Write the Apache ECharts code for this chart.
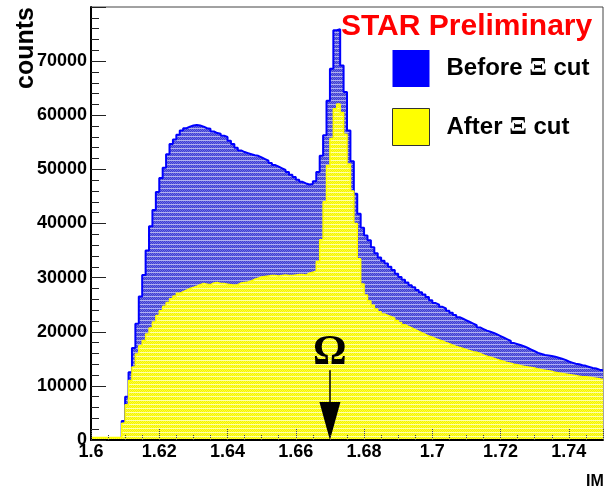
<!DOCTYPE html>
<html>
<head>
<meta charset="utf-8">
<script src="https://cdn.jsdelivr.net/npm/echarts@6.0.0/dist/echarts.min.js"></script>
<style>
  html, body { margin: 0; padding: 0; background: #fff; }
  #chart { width: 604px; height: 489px; }
</style>
</head>
<body>
<div id="chart"></div>
<script>
// histogram binning
const binStart = 1.6
const binWidth = 0.001
const xRange = [1.6, 1.75]
const yRange = [0, 80000]

// counts per bin, before the Xi cut
const beforeCounts = [
  300, 300, 300, 300, 300, 300, 300, 300, 300, 3500,
  8000, 12500, 17000, 21500, 26500, 30500, 35000, 39500, 42500, 45800,
  48400, 50300, 52800, 54700, 55500, 56400, 57200, 57600, 57900, 58100,
  58200, 58100, 57900, 57600, 57500, 57000, 56700, 56600, 56200, 56000,
  55300, 54700, 54000, 53500, 53200, 53000, 52800, 52600, 52500, 52200,
  51900, 51600, 51200, 50800, 50500, 50200, 49900, 49500, 49000, 48600,
  48100, 47700, 47400, 47200, 47300, 47800, 49500, 52500, 56300, 62700,
  68600, 75700, 75900, 69200, 64300, 57200, 51500, 45500, 41800, 39200,
  37800, 36900, 35600, 34500, 33700, 33100, 32600, 32000, 31400, 30700,
  30100, 29600, 29100, 28600, 28200, 27700, 27300, 26900, 26400, 25800,
  25300, 25000, 24600, 24300, 23900, 23500, 23100, 22700, 22400, 22100,
  21800, 21500, 21200, 20800, 20500, 20200, 20000, 19800, 19500, 19200,
  18900, 18600, 18300, 17900, 17700, 17500, 17300, 17000, 16700, 16400,
  16100, 15900, 15700, 15600, 15500, 15400, 15200, 15000, 14800, 14500,
  14300, 14100, 14000, 13800, 13700, 13500, 13300, 13200, 13000, 12900
]

// counts per bin, after the Xi cut
const afterCounts = [
  450, 450, 450, 450, 450, 450, 450, 450, 450, 3100,
  6500, 11000, 13500, 15900, 17400, 18400, 19600, 20700, 21800, 23000,
  23900, 24700, 25400, 26100, 26600, 27100, 27400, 27700, 28000, 28200,
  28400, 28700, 28900, 28800, 28700, 29000, 29100, 28900, 28900, 28800,
  28700, 28600, 28700, 29000, 29100, 29200, 29400, 29700, 29900, 30100,
  30200, 30300, 30400, 30400, 30300, 30400, 30500, 30400, 30400, 30500,
  30600, 30600, 30500, 30800, 31000, 31200, 33000, 37000, 44000, 50700,
  55700, 61200, 62100, 60500, 56500, 51000, 46000, 40000, 33500, 28800,
  26800, 25700, 24900, 24200, 23700, 23300, 23000, 22800, 22500, 22100,
  21700, 21300, 21000, 20700, 20400, 20100, 19800, 19500, 19200, 19000,
  18700, 18500, 18300, 18000, 17800, 17500, 17300, 17100, 16900, 16700,
  16500, 16300, 16200, 16000, 15700, 15500, 15300, 15100, 14900, 14700,
  14500, 14300, 14200, 14000, 13900, 13700, 13600, 13500, 13400, 13300,
  13100, 13000, 12900, 12800, 12700, 12500, 12400, 12300, 12200, 12100,
  12000, 11900, 11800, 11700, 11700, 11600, 11500, 11400, 11300, 11200
]

// Omega arrow annotation
const omegaMass = 1.67
const arrowTop = 12900
const arrowHeadCenter = 3500

const chart = echarts.init(document.getElementById('chart'))

const toSteps = counts => {
  const pts = counts.map((c, i) => [binStart + i * binWidth, c])
  pts.push([binStart + counts.length * binWidth, counts[counts.length - 1]])
  return pts
}

// small fill patterns, mimic the dithered ROOT fill
const makePattern = rows => {
  const c = document.createElement('canvas')
  c.width = rows[0].length
  c.height = rows.length
  const ctx = c.getContext('2d')
  rows.forEach((r, y) => r.forEach((col, x) => {
    ctx.fillStyle = col
    ctx.fillRect(x, y, 1, 1)
  }))
  return { image: c, repeat: 'repeat' }
}

const bluePattern = makePattern([
  ['#b0b0ee', '#b0b0ee'],
  ['#3c3cd6', '#7070e0'],
  ['#7070e0', '#3c3cd6'],
  ['#3c3cd6', '#7070e0']
])
const yellowPattern = makePattern([
  ['#ffffa8', '#ffffa8'],
  ['#f2f200', '#ffff38'],
  ['#ffff38', '#f2f200'],
  ['#f2f200', '#ffff38']
])

const font = 'Liberation Sans'

chart.setOption({
  animation: false,
  backgroundColor: '#fff',
  grid: {
    left: 91, right: 1, top: 7, bottom: 49,
    show: true, borderColor: '#444', borderWidth: 1,
    outerBoundsMode: 'none'
  },
  legend: {
    orient: 'vertical',
    left: 392, top: 50,
    padding: 0,
    itemWidth: 37, itemHeight: 37, itemGap: 21,
    icon: 'rect',
    selectedMode: false,
    data: [
      { name: 'Before Ξ cut', itemStyle: { color: '#0000ff', borderWidth: 0 } },
      { name: 'After Ξ cut', itemStyle: { color: '#ffff00', borderColor: '#333', borderWidth: 1 } }
    ],
    formatter: name => name.replace('Ξ', '{xi|Ξ}'),
    textStyle: {
      fontFamily: font, fontWeight: 'bold', fontSize: 24, color: '#000',
      padding: [0, 0, 0, 12],
      rich: {
        xi: { fontFamily: 'Liberation Serif', fontWeight: 'bold', fontSize: 26, color: '#000' }
      }
    }
  },
  xAxis: {
    type: 'value',
    min: xRange[0], max: xRange[1], interval: 0.02,
    z: 10,
    splitLine: { show: false },
    axisLine: { show: true, onZero: false, lineStyle: { color: '#000', width: 2 } },
    axisTick: { show: true, inside: true, length: 11, lineStyle: { color: '#444', width: 1, type: 'dotted' } },
    minorTick: { show: true, splitNumber: 4, length: 5, lineStyle: { color: '#444', width: 1, type: 'dotted' } },
    axisLabel: {
      margin: 3, showMaxLabel: false,
      fontFamily: font, fontWeight: 'bold', fontSize: 18, color: '#000'
    }
  },
  yAxis: {
    type: 'value',
    min: yRange[0], max: yRange[1], interval: 10000,
    z: 10,
    splitLine: { show: false },
    axisLine: { show: true, lineStyle: { color: '#000', width: 2 } },
    axisTick: { show: true, inside: true, length: 15, lineStyle: { color: '#222', width: 1 } },
    minorTick: { show: true, splitNumber: 5, length: 8, lineStyle: { color: '#222', width: 1 } },
    axisLabel: {
      margin: 4, showMaxLabel: false,
      formatter: v => String(v),
      fontFamily: font, fontWeight: 'bold', fontSize: 18, color: '#000'
    }
  },
  series: [
    {
      name: 'Before Ξ cut',
      type: 'line',
      step: 'end',
      symbol: 'none',
      data: toSteps(beforeCounts),
      lineStyle: { color: '#0000ff', width: 2 },
      itemStyle: { color: '#0000ff' },
      areaStyle: { color: bluePattern, opacity: 1 },
      z: 2
    },
    {
      name: 'After Ξ cut',
      type: 'line',
      step: 'end',
      symbol: 'none',
      data: toSteps(afterCounts),
      lineStyle: { color: '#ffff00', width: 1.5 },
      itemStyle: { color: '#ffff00' },
      areaStyle: { color: yellowPattern, opacity: 1 },
      z: 3,
      markLine: {
        silent: true,
        symbol: ['none', 'triangle'],
        lineStyle: { color: '#000', width: 1.5, type: 'solid' },
        label: {
          show: true, position: 'start', formatter: 'Ω', distance: -4,
          fontFamily: 'Liberation Serif', fontWeight: 'bold', fontSize: 42, color: '#000'
        },
        data: [[
          { coord: [omegaMass, arrowTop] },
          { coord: [omegaMass, arrowHeadCenter], symbolSize: [21, 38] }
        ]]
      }
    }
  ],
  graphic: [
    {
      type: 'text', x: 26, y: 7, rotation: Math.PI / 2,
      style: { text: 'counts', font: 'bold 25px "Liberation Sans"', fill: '#000', textAlign: 'right', textVerticalAlign: 'middle' }
    },
    {
      type: 'text', x: 341, y: 27,
      style: { text: 'STAR Preliminary', font: 'bold 30px "Liberation Sans"', fill: '#ff0000', textAlign: 'left', textVerticalAlign: 'middle' }
    },
    {
      type: 'text', x: 586, y: 474,
      style: { text: 'IM', font: 'bold 16px "Liberation Sans"', fill: '#000', textAlign: 'left', textVerticalAlign: 'top' }
    }
  ]
})
</script>
</body>
</html>
